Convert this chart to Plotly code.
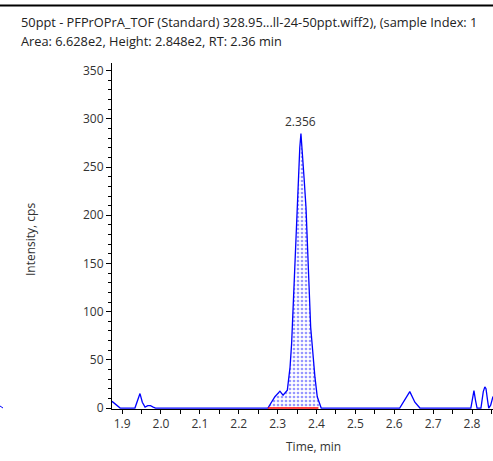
import plotly.graph_objects as go

# Chromatogram data (time in min, intensity in cps)
times = [1.874, 1.880, 1.887, 1.895, 1.933, 1.940, 1.946, 1.952, 1.959, 1.966, 1.973, 1.980, 1.986,
         2.275, 2.293, 2.306, 2.314, 2.325, 2.332, 2.336, 2.340, 2.344, 2.349, 2.353, 2.357, 2.360,
         2.364, 2.368, 2.373, 2.376, 2.381, 2.385, 2.390, 2.396, 2.402, 2.409, 2.412,
         2.614, 2.627, 2.640, 2.653, 2.666,
         2.797, 2.801, 2.805, 2.809, 2.813, 2.823, 2.829, 2.833, 2.836, 2.840, 2.843, 2.848, 2.854]
intensity = [7.0, 5.0, 2.0, 0.0, 0.0, 8.0, 15.0, 6.0, 1.0, 2.5, 2.4, 1.0, 0.0,
             0.0, 11.7, 17.5, 13.4, 18.6, 42.6, 66.8, 104.6, 160.0, 204.0, 242.0, 270.0, 284.8,
             266.0, 239.0, 208.0, 170.0, 125.0, 84.0, 57.0, 32.0, 11.7, 3.0, 0.0,
             0.0, 8.0, 17.0, 6.0, 0.0,
             0.0, 10.0, 18.0, 8.0, 0.0, 0.0, 17.0, 22.0, 20.0, 8.0, 0.0, 3.0, 12.0]

peak_start = 2.275
peak_end = 2.412
peak_rt_label = "2.356"
peak_apex_time = 2.360
peak_apex_height = 284.8

title_line1 = "50ppt - PFPrOPrA_TOF (Standard) 328.95...ll-24-50ppt.wiff2), (sample Index: 1"
title_line2 = "Area: 6.628e2, Height: 2.848e2, RT: 2.36 min"

x_ticks = [1.9, 2.0, 2.1, 2.2, 2.3, 2.4, 2.5, 2.6, 2.7, 2.8]
y_ticks = [0, 50, 100, 150, 200, 250, 300, 350]

pk_t = [t for t in times if peak_start <= t <= peak_end]
pk_v = [v for t, v in zip(times, intensity) if peak_start <= t <= peak_end]

fig = go.Figure()
fig.add_trace(go.Scatter(x=pk_t, y=pk_v, mode="lines", line=dict(color="rgba(0,0,255,0)", width=0),
                         fill="tozeroy", fillcolor="rgba(0,0,255,0)",
                         fillpattern=dict(shape=".", fgcolor="#3030ff", bgcolor="white", size=4, solidity=0.35),
                         hoverinfo="skip", showlegend=False))
fig.add_trace(go.Scatter(x=times, y=intensity, mode="lines", line=dict(color="#0000ff", width=1.3),
                         showlegend=False))
fig.add_trace(go.Scatter(x=[peak_start, peak_end - 0.007], y=[0, 0], mode="lines",
                         line=dict(color="#ff0000", width=1.5), showlegend=False))

W, H = 493, 461
l, r, t, b = 112, 0, 63, 52
pw, ph = W - l - r, H - t - b

def px(xp):
    return (xp - l) / pw

def py(yp):
    return (H - b - yp) / ph

font = "Open Sans, Noto Sans, sans-serif"
fig.update_layout(
    width=W, height=H, margin=dict(l=l, r=r, t=t, b=b),
    paper_bgcolor="white", plot_bgcolor="white",
    font=dict(family=font, size=12, color="#333333"),
    xaxis=dict(range=[1.874, 2.854], tickvals=x_ticks, ticktext=[f"{v:.1f}" for v in x_ticks],
               showgrid=False, zeroline=False, showline=True, linecolor="black", linewidth=1,
               ticks="outside", ticklen=4, tickcolor="black",
               minor=dict(dtick=0.05, tick0=1.85, ticks="outside", ticklen=4, tickcolor="black"),
               tickfont=dict(size=12, color="#333333")),
    yaxis=dict(range=[-1, 358], tickvals=y_ticks, showgrid=False, zeroline=False, showline=True,
               linecolor="black", linewidth=1, ticks="outside", ticklen=5, tickcolor="black",
               minor=dict(dtick=10, ticks="outside", ticklen=3, tickcolor="black"),
               tickfont=dict(size=12, color="#333333")),
    annotations=[
        dict(text=title_line1, x=px(19), y=py(22), xref="paper", yref="paper", xanchor="left",
             yanchor="middle", showarrow=False, font=dict(size=12.8, color="#222222")),
        dict(text=title_line2, x=px(19), y=py(41), xref="paper", yref="paper", xanchor="left",
             yanchor="middle", showarrow=False, font=dict(size=12.8, color="#222222")),
        dict(text="Intensity, cps", x=px(30), y=py(240), xref="paper", yref="paper", textangle=-90,
             xanchor="center", yanchor="middle",
             showarrow=False, font=dict(size=12, color="#333333")),
        dict(text="Time, min", x=px(313), y=py(446), xref="paper", yref="paper",
             xanchor="center", yanchor="middle",
             showarrow=False, font=dict(size=12, color="#333333")),
        dict(text=peak_rt_label, x=peak_apex_time, y=peak_apex_height, xref="x", yref="y",
             xanchor="center", yanchor="bottom", yshift=2, showarrow=False,
             font=dict(size=12, color="#333333")),
    ],
    shapes=[
        dict(type="line", xref="paper", yref="paper", x0=px(0), x1=1, y0=py(5.5), y1=py(5.5),
             line=dict(color="black", width=2)),
        dict(type="line", xref="paper", yref="paper", x0=px(0), x1=px(3), y0=py(406), y1=py(408),
             line=dict(color="#0000ff", width=1)),
    ],
)

fig.write_html("out.html")
